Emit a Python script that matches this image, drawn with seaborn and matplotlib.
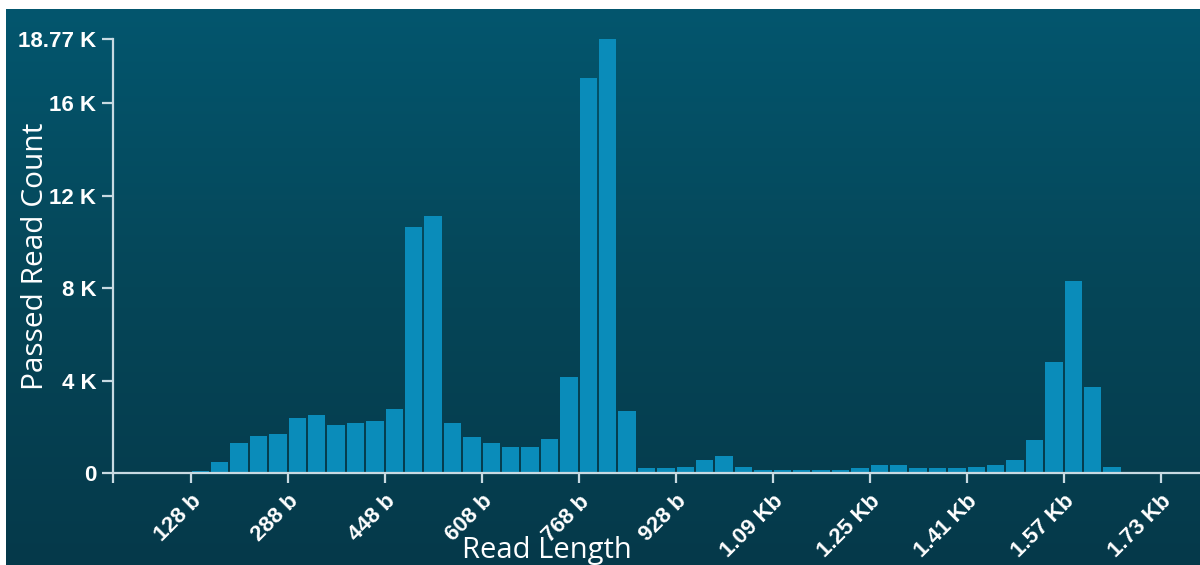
import numpy as np
import pandas as pd
import matplotlib
matplotlib.use('Agg')
import matplotlib.pyplot as plt
import seaborn as sns
from matplotlib.colors import LinearSegmentedColormap

# Read length histogram, 32 bp bins (bin start in bp)
bin_starts = [128, 160, 192, 224, 256, 288, 320, 352, 384, 416,
              448, 480, 512, 544, 576, 608, 640, 672, 704, 736,
              768, 800, 832, 864, 896, 928, 960, 992, 1024, 1056,
              1088, 1120, 1152, 1184, 1216, 1248, 1280, 1312, 1344, 1376,
              1408, 1440, 1472, 1504, 1536, 1568, 1600, 1632, 1664, 1696,
              1728, 1760]
read_counts = [70, 480, 1300, 1620, 1690, 2360, 2510, 2075, 2160, 2250,
               2770, 10640, 11110, 2160, 1560, 1300, 1140, 1140, 1490, 4170,
               17080, 18770, 2680, 220, 220, 280, 560, 735, 260, 130,
               130, 130, 130, 130, 200, 350, 350, 220, 220, 220,
               260, 350, 560, 1430, 4800, 8300, 3720, 260, 0, 50,
               50, 50]

y_ticks = [0, 4000, 8000, 12000, 16000, 18770]
y_labels = ['0', '4 K', '8 K', '12 K', '16 K', '18.77 K']
x_ticks = [0, 128, 288, 448, 608, 768, 928, 1088, 1248, 1408, 1568, 1728]
x_labels = ['', '128 b', '288 b', '448 b', '608 b', '768 b', '928 b',
            '1.09 Kb', '1.25 Kb', '1.41 Kb', '1.57 Kb', '1.73 Kb']

df = pd.DataFrame({'read_length': bin_starts, 'count': read_counts})

sns.set_style('white')
plt.rcParams['font.family'] = ['Liberation Sans', 'DejaVu Sans']

axis_col = '#c8dae2'
bar_col = '#0a8cba'

fig = plt.figure(figsize=(12, 5.65), dpi=100, facecolor='white')

# gradient background panel
bg = fig.add_axes([6 / 1200, 0, 1 - 6 / 1200, 556 / 565])
cmap = LinearSegmentedColormap.from_list('bg', ['#03566e', '#064658', '#05394a'])
bg.imshow(np.linspace(0, 1, 256).reshape(-1, 1), aspect='auto', cmap=cmap,
          extent=[0, 1, 0, 1])
bg.axis('off')

ax = fig.add_axes([113 / 1200, 92 / 565, 1087 / 1200, 434 / 565])
ax.set_facecolor('none')

sns.histplot(data=df, x='read_length', weights='count', binwidth=32,
             binrange=(128, 1792), shrink=0.9, color=bar_col, alpha=1,
             edgecolor='none', linewidth=0, ax=ax)

ax.set_xlim(0, 1793)
ax.set_ylim(0, 18770)

for side in ['top', 'right']:
    ax.spines[side].set_visible(False)
for side in ['left', 'bottom']:
    ax.spines[side].set_color(axis_col)
    ax.spines[side].set_linewidth(1.6)

ax.set_yticks(y_ticks)
ax.set_yticklabels(y_labels, fontweight='bold')
ax.set_xticks(x_ticks)
ax.set_xticklabels(x_labels, fontweight='bold', rotation=45, ha='right',
                   rotation_mode='anchor')
ax.tick_params(axis='y', length=8, width=1.6, color=axis_col, pad=4,
               labelsize=16, labelcolor='white', left=True)
ax.tick_params(axis='x', length=7, width=1.6, color=axis_col, pad=6,
               labelsize=16, labelcolor='white', bottom=True)

ax.set_ylabel('Passed Read Count', fontsize=21.5, color='white',
              family=['Open Sans', 'DejaVu Sans'])
ax.set_xlabel('Read Length', fontsize=21, color='white',
              family=['Open Sans', 'DejaVu Sans'])
ax.yaxis.set_label_coords(-0.058, 0.5)
ax.xaxis.set_label_coords(0.399, -0.145)

fig.savefig('out.png', dpi=100)
